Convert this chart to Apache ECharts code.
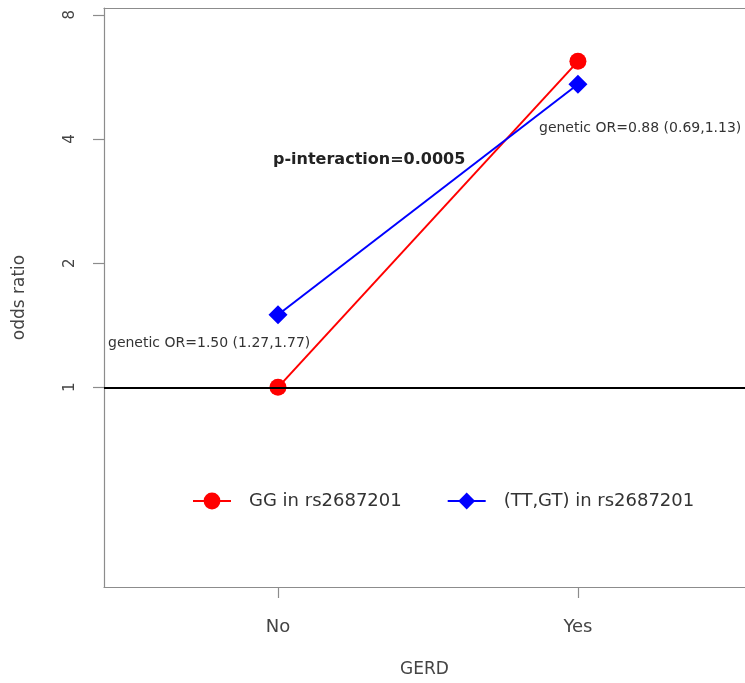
<!DOCTYPE html>
<html><head><meta charset="utf-8">
<script src="https://cdn.jsdelivr.net/npm/echarts@6/dist/echarts.min.js"></script>
<style>html,body{margin:0;padding:0;background:#fff}#c{width:745px;height:683px}</style>
</head><body><div id="c"></div>
<script>
const categories = ['No', 'Yes'];
const seriesNames = ['GG in rs2687201', '(TT,GT) in rs2687201'];
const ggValues = [1.00, 6.17];
const ttgtValues = [1.50, 5.43];
const yTicks = [1, 2, 4, 8];
const referenceValue = 1;
const noteNo = 'genetic OR=1.50 (1.27,1.77)';
const noteYes = 'genetic OR=0.88 (0.69,1.13)';
const notePInteraction = 'p-interaction=0.0005';

const FONT = 'DejaVu Sans';
const xPositions = categories.map((c, i) => i + 1);
const X_MIN = 0.42, X_MAX = 2.557;
const AXIS_LINE = { show: true, lineStyle: { color: '#8c8c8c', width: 1.2 } };

const chart = echarts.init(document.getElementById('c'));
chart.setOption({
  animation: false,
  backgroundColor: '#fff',
  grid: { left: 104, top: 8, right: 0, bottom: 95, show: false, containLabel: false },
  xAxis: [{
    type: 'value', min: X_MIN, max: X_MAX, position: 'bottom',
    axisLine: AXIS_LINE,
    splitLine: { show: false },
    axisTick: { show: true, customValues: xPositions, length: 11, lineStyle: { color: '#8c8c8c', width: 1.2 } },
    axisLabel: { customValues: xPositions, formatter: v => categories[Math.round(v) - 1], margin: 31, fontSize: 18, color: '#444', fontFamily: FONT },
    name: 'GERD', nameLocation: 'middle', nameGap: 74,
    nameTextStyle: { fontSize: 17, color: '#444', fontFamily: FONT }
  }, {
    type: 'value', min: X_MIN, max: X_MAX, position: 'top',
    axisLine: AXIS_LINE, splitLine: { show: false },
    axisTick: { show: false }, axisLabel: { show: false }
  }],
  yAxis: {
    type: 'log', logBase: 2, min: 0.328, max: 8.31,
    axisLine: AXIS_LINE,
    splitLine: { show: false },
    axisTick: { show: true, customValues: yTicks, length: 11, lineStyle: { color: '#8c8c8c', width: 1.2 } },
    axisLabel: { customValues: yTicks, rotate: 90, margin: 26, fontSize: 15, color: '#444', fontFamily: FONT },
    name: 'odds ratio', nameLocation: 'middle', nameRotate: 90, nameGap: 76,
    nameTextStyle: { fontSize: 17, color: '#444', fontFamily: FONT }
  },
  legend: {
    data: seriesNames, left: 192, top: 492, padding: 0,
    itemWidth: 38, itemHeight: 21, itemGap: 45,
    textStyle: { fontSize: 18, color: '#333', fontFamily: FONT, padding: [0, 0, 0, 13] }
  },
  series: [
    {
      name: 'ref', type: 'line', data: [], z: 1, silent: true,
      markLine: { silent: true, symbol: 'none', label: { show: false },
        lineStyle: { color: '#000', width: 2, type: 'solid' },
        data: [{ yAxis: referenceValue }] }
    },
    {
      name: seriesNames[0], type: 'line', z: 3,
      data: ggValues.map((v, i) => [xPositions[i], v]),
      symbol: 'circle', symbolSize: 17,
      itemStyle: { color: '#ff0000' }, lineStyle: { color: '#ff0000', width: 2 }
    },
    {
      name: seriesNames[1], type: 'line', z: 4,
      data: ttgtValues.map((v, i) => [xPositions[i], v]),
      symbol: 'diamond', symbolSize: 19,
      itemStyle: { color: '#0000ff' }, lineStyle: { color: '#0000ff', width: 2 }
    }
  ],
  graphic: [
    { type: 'text', x: 108, y: 343, z: 10, style: { text: noteNo, fill: '#333', fontSize: 14, fontFamily: FONT, verticalAlign: 'middle' } },
    { type: 'text', x: 539, y: 128, z: 10, style: { text: noteYes, fill: '#333', fontSize: 14, fontFamily: FONT, verticalAlign: 'middle' } },
    { type: 'text', x: 273, y: 160, z: 10, style: { text: notePInteraction, fill: '#222', fontSize: 16, fontWeight: 'bold', fontFamily: FONT, verticalAlign: 'middle' } }
  ]
});
</script>
</body></html>
